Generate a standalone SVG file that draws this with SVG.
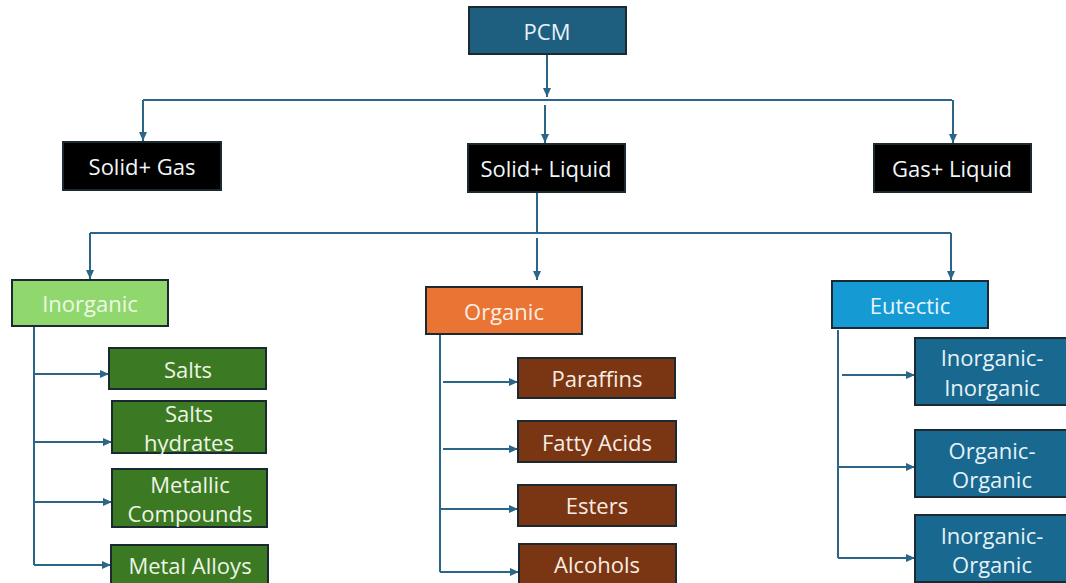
<svg xmlns="http://www.w3.org/2000/svg" width="1066" height="583" viewBox="0 0 1066 583">
<defs>
<marker id="ah" markerUnits="userSpaceOnUse" markerWidth="9" markerHeight="8" refX="9" refY="4" orient="auto">
<path d="M0,0 L9,4 L0,8 z" fill="#2b6688"/>
</marker>
<style>
.c{stroke:#2b6688;stroke-width:2;fill:none}
.a{stroke:#2b6688;stroke-width:2;fill:none;marker-end:url(#ah)}
.box{stroke:#1a2a30;stroke-width:2}
text{font-family:"Open Sans","Liberation Sans",sans-serif;font-size:22px;text-anchor:middle;dominant-baseline:central}
.pcm{fill:#1e5f80}
.blk{fill:#000}
.inorg{fill:#90d86e}
.org{fill:#ea7434}
.eut{fill:#169ad4}
.g{fill:#3b7a22}
.b{fill:#7a3512}
.bl{fill:#18688f}
.tw{fill:#f2f6f8}
</style>
</defs>
<rect width="1066" height="583" fill="#fff"/>
<g id="connectors">
<path class="a" d="M547,54 V97"/>
<path class="c" d="M143,100 H952"/>
<path class="a" d="M143,100 V141"/>
<path class="a" d="M545,105 V143"/>
<path class="a" d="M953,100 V143"/>
<path class="c" d="M537,192 V233"/>
<path class="c" d="M90,233 H951"/>
<path class="a" d="M90,233 V279"/>
<path class="a" d="M537,238 V280"/>
<path class="a" d="M951,233 V280"/>
<path class="c" d="M34,326 V565"/>
<path class="a" d="M34,374 H109"/>
<path class="a" d="M34,442 H112"/>
<path class="a" d="M34,502 H112"/>
<path class="a" d="M34,565 H111"/>
<path class="c" d="M440,334 V572"/>
<path class="a" d="M443,382 H518"/>
<path class="a" d="M443,449 H518"/>
<path class="a" d="M440,509 H518"/>
<path class="a" d="M440,572 H519"/>
<path class="c" d="M838,330 V558"/>
<path class="a" d="M842,375 H915"/>
<path class="a" d="M838,467 H915"/>
<path class="a" d="M838,558 H915"/>
</g>
<g id="pcm"><rect class="box pcm" x="469" y="7" width="157" height="47"/><text x="547" y="31" fill="#e6f2fa">PCM</text></g>
<g id="solid-gas"><rect class="box blk" x="63" y="142" width="158" height="48"/><text x="142" y="166" class="tw">Solid+ Gas</text></g>
<g id="solid-liquid"><rect class="box blk" x="468" y="144" width="157" height="48"/><text x="546" y="168" class="tw">Solid+ Liquid</text></g>
<g id="gas-liquid"><rect class="box blk" x="874" y="144" width="157" height="48"/><text x="952" y="168" class="tw">Gas+ Liquid</text></g>
<g id="inorganic"><rect class="box inorg" x="12" y="280" width="156" height="46"/><text x="90" y="303" fill="#eef9e6">Inorganic</text></g>
<g id="organic"><rect class="box org" x="426" y="287" width="156" height="47"/><text x="504" y="311" fill="#fbeee4">Organic</text></g>
<g id="eutectic"><rect class="box eut" x="832" y="281" width="156" height="47"/><text x="910" y="305" fill="#e6f4fb">Eutectic</text></g>
<g id="salts"><rect class="box g" x="109" y="348" width="157" height="41"/><text x="188" y="369" fill="#eef4e6">Salts</text></g>
<g id="salts-hydrates"><rect class="box g" x="112" y="401" width="154" height="52"/><text x="189" y="413" fill="#eef4e6">Salts</text><text x="189" y="442" fill="#eef4e6">hydrates</text></g>
<g id="metallic-compounds"><rect class="box g" x="112" y="469" width="155" height="58"/><text x="190" y="484" fill="#eef4e6">Metallic</text><text x="190" y="513" fill="#eef4e6">Compounds</text></g>
<g id="metal-alloys"><rect class="box g" x="111" y="545" width="157" height="44"/><text x="190" y="565" fill="#eef4e6">Metal Alloys</text></g>
<g id="paraffins"><rect class="box b" x="518" y="358" width="157" height="40"/><text x="597" y="378" fill="#f8ece4">Paraffins</text></g>
<g id="fatty-acids"><rect class="box b" x="518" y="421" width="158" height="41"/><text x="597" y="442" fill="#f8ece4">Fatty Acids</text></g>
<g id="esters"><rect class="box b" x="518" y="485" width="158" height="41"/><text x="597" y="505" fill="#f8ece4">Esters</text></g>
<g id="alcohols"><rect class="box b" x="519" y="544" width="157" height="44"/><text x="597" y="564" fill="#f8ece4">Alcohols</text></g>
<g id="inorganic-inorganic"><rect class="box bl" x="915" y="338" width="155" height="67"/><text x="992" y="357" fill="#e6f2f8">Inorganic-</text><text x="992" y="387" fill="#e6f2f8">Inorganic</text></g>
<g id="organic-organic"><rect class="box bl" x="915" y="430" width="155" height="67"/><text x="992" y="450" fill="#e6f2f8">Organic-</text><text x="992" y="479" fill="#e6f2f8">Organic</text></g>
<g id="inorganic-organic"><rect class="box bl" x="915" y="515" width="155" height="67"/><text x="992" y="535" fill="#e6f2f8">Inorganic-</text><text x="992" y="564" fill="#e6f2f8">Organic</text></g>
</svg>
